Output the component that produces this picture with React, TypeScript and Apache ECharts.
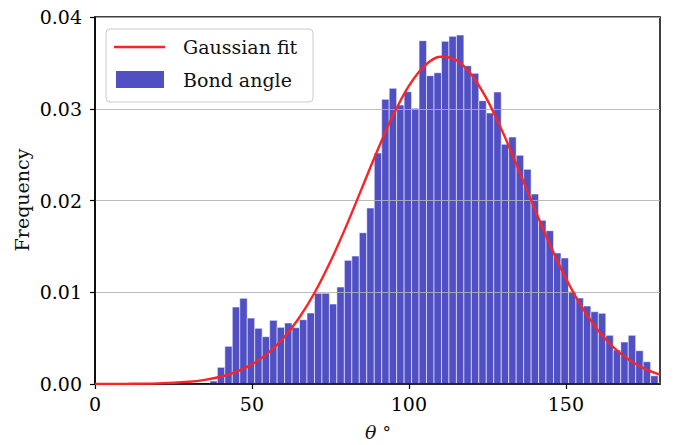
import React, { useEffect, useRef } from "react";
import * as echarts from "echarts";

// Histogram ("Bond angle"), density per bin
const binStart = 36.6;
const binWidth = 2.38;
const binValues = [
  0.00033, 0.00182, 0.00411, 0.00839, 0.00934, 0.00719, 0.00607, 0.00516, 0.00694, 0.00618,
  0.00665, 0.00614, 0.00701, 0.00774, 0.00989, 0.00989, 0.00872, 0.01057, 0.01348, 0.01395,
  0.01649, 0.01918, 0.02518, 0.03103, 0.03223, 0.03041, 0.03186, 0.03005, 0.03742, 0.03361,
  0.03393, 0.03735, 0.0379, 0.03804, 0.03469, 0.03387, 0.03088, 0.02954, 0.03183, 0.02613,
  0.02692, 0.02493, 0.0234, 0.02071, 0.01784, 0.01671, 0.01428, 0.01373, 0.0101, 0.00937,
  0.0085, 0.00788, 0.00771, 0.00531, 0.00371, 0.00458, 0.00531, 0.00363, 0.00243, 0.0009,
  0.0001,
];

const fitX = [
  0, 10, 20, 30, 35, 40, 45, 50, 55, 60, 65, 70, 75, 80, 85, 90, 95, 100, 105, 110, 115, 120,
  125, 130, 135, 140, 145, 150, 155, 160, 165, 170, 175, 180,
];
const fitY = [
  0.000003, 0.000016, 0.000069, 0.00025, 0.000455, 0.00079, 0.00133, 0.00214, 0.00333, 0.00498,
  0.00719, 0.00997, 0.01334, 0.01718, 0.02132, 0.02547, 0.02931, 0.03249, 0.03468, 0.03566,
  0.03531, 0.03368, 0.03094, 0.02737, 0.02333, 0.01915, 0.01514, 0.01152, 0.00845, 0.00597,
  0.00406, 0.00266, 0.00168, 0.00102,
];

const xTicks = [0, 50, 100, 150];

const FONT = "DejaVu Serif";

export default function App() {
  const ref = useRef<HTMLDivElement>(null);
  useEffect(() => {
    if (!ref.current) return;
    document.body.style.margin = "0";
    const chart = echarts.init(ref.current, undefined, { renderer: "svg" });
    const histData = binValues.map((v, i) => [
      binStart + i * binWidth,
      binStart + (i + 1) * binWidth,
      v,
    ]);
    const fitData = fitX.map((x, i) => [x, fitY[i]]);
    chart.setOption({
      animation: false,
      grid: {
        left: 95,
        right: 17,
        top: 17,
        bottom: 61,
        show: true,
        borderColor: "#000",
        borderWidth: 1.5,
        backgroundColor: "transparent",
      },
      xAxis: {
        type: "value",
        min: 0,
        max: 180,
        interval: 50,
        z: 3,
        axisLine: { show: true, lineStyle: { color: "#000", width: 1.5 } },
        axisTick: {
          show: true,
          length: 5,
          lineStyle: { color: "#000", width: 1.2 },
          customValues: xTicks,
        },
        axisLabel: {
          color: "#000",
          fontFamily: FONT,
          fontSize: 19,
          margin: 10,
          customValues: xTicks,
        },
        splitLine: { show: false },
      },
      yAxis: {
        type: "value",
        min: 0,
        max: 0.04,
        interval: 0.01,
        z: 3,
        axisLine: { show: true, lineStyle: { color: "#000", width: 1.5 } },
        axisTick: {
          show: true,
          length: 5,
          lineStyle: { color: "#000", width: 1.2 },
        },
        axisLabel: {
          color: "#000",
          fontFamily: FONT,
          fontSize: 19,
          margin: 13,
          formatter: (v: number) => v.toFixed(2),
        },
        splitLine: {
          show: true,
          lineStyle: { color: "#b0b0b0", width: 1, opacity: 0.85 },
        },
      },
      series: [
        {
          type: "custom",
          name: "Bond angle",
          z: 2,
          encode: { x: [0, 1], y: 2 },
          data: histData,
          renderItem: (params: any, api: any) => {
            const x0 = api.value(0);
            const x1 = api.value(1);
            const y = api.value(2);
            const p0 = api.coord([x0, y]);
            const p1 = api.coord([x1, 0]);
            const right = params.coordSys.x + params.coordSys.width;
            const xr = Math.min(p1[0], right);
            return {
              type: "rect",
              shape: { x: p0[0], y: p0[1], width: xr - p0[0], height: p1[1] - p0[1] },
              style: {
                fill: "#5050c4",
                stroke: "rgba(255,255,255,0.55)",
                lineWidth: 1,
              },
            };
          },
        },
        {
          type: "line",
          name: "Gaussian fit",
          z: 5,
          data: fitData,
          smooth: 0.3,
          showSymbol: false,
          symbol: "none",
          lineStyle: { color: "#fb2424", width: 2.4 },
        },
      ],
      graphic: [
        {
          type: "rect",
          z: 100,
          shape: { x: 106, y: 29, width: 207, height: 73, r: 4 },
          style: { fill: "rgba(255,255,255,0.85)", stroke: "#cccccc", lineWidth: 1 },
        },
        {
          type: "line",
          z: 101,
          shape: { x1: 114, y1: 47, x2: 165, y2: 47 },
          style: { stroke: "#fb2424", lineWidth: 2.4 },
        },
        {
          type: "rect",
          z: 101,
          shape: { x: 116, y: 71, width: 48, height: 17 },
          style: { fill: "#5050c4" },
        },
        {
          type: "text",
          z: 101,
          x: 183,
          y: 47,
          style: {
            text: "Gaussian fit",
            fontFamily: FONT,
            fontSize: 19,
            fill: "#111",
            align: "left",
            verticalAlign: "middle",
          },
        },
        {
          type: "text",
          z: 101,
          x: 183,
          y: 80,
          style: {
            text: "Bond angle",
            fontFamily: FONT,
            fontSize: 19,
            fill: "#111",
            align: "left",
            verticalAlign: "middle",
          },
        },
        {
          type: "text",
          z: 101,
          x: 22,
          y: 200,
          rotation: Math.PI / 2,
          style: {
            text: "Frequency",
            fontFamily: FONT,
            fontSize: 19,
            fill: "#111",
            align: "center",
            verticalAlign: "middle",
          },
        },
        {
          type: "text",
          z: 101,
          x: 378,
          y: 432,
          style: {
            text: "{a|θ} {b|°}",
            fontFamily: FONT,
            fontSize: 19,
            fill: "#111",
            align: "center",
            verticalAlign: "middle",
            rich: {
              a: { fontFamily: FONT, fontSize: 19, fontStyle: "italic", fill: "#111" },
              b: { fontFamily: FONT, fontSize: 17, fill: "#111" },
            },
          },
        },
      ],
    });
    return () => chart.dispose();
  }, []);
  return (
    <div
      ref={ref}
      style={{ position: "absolute", left: 0, top: 0, width: 677, height: 445 }}
    />
  );
}
